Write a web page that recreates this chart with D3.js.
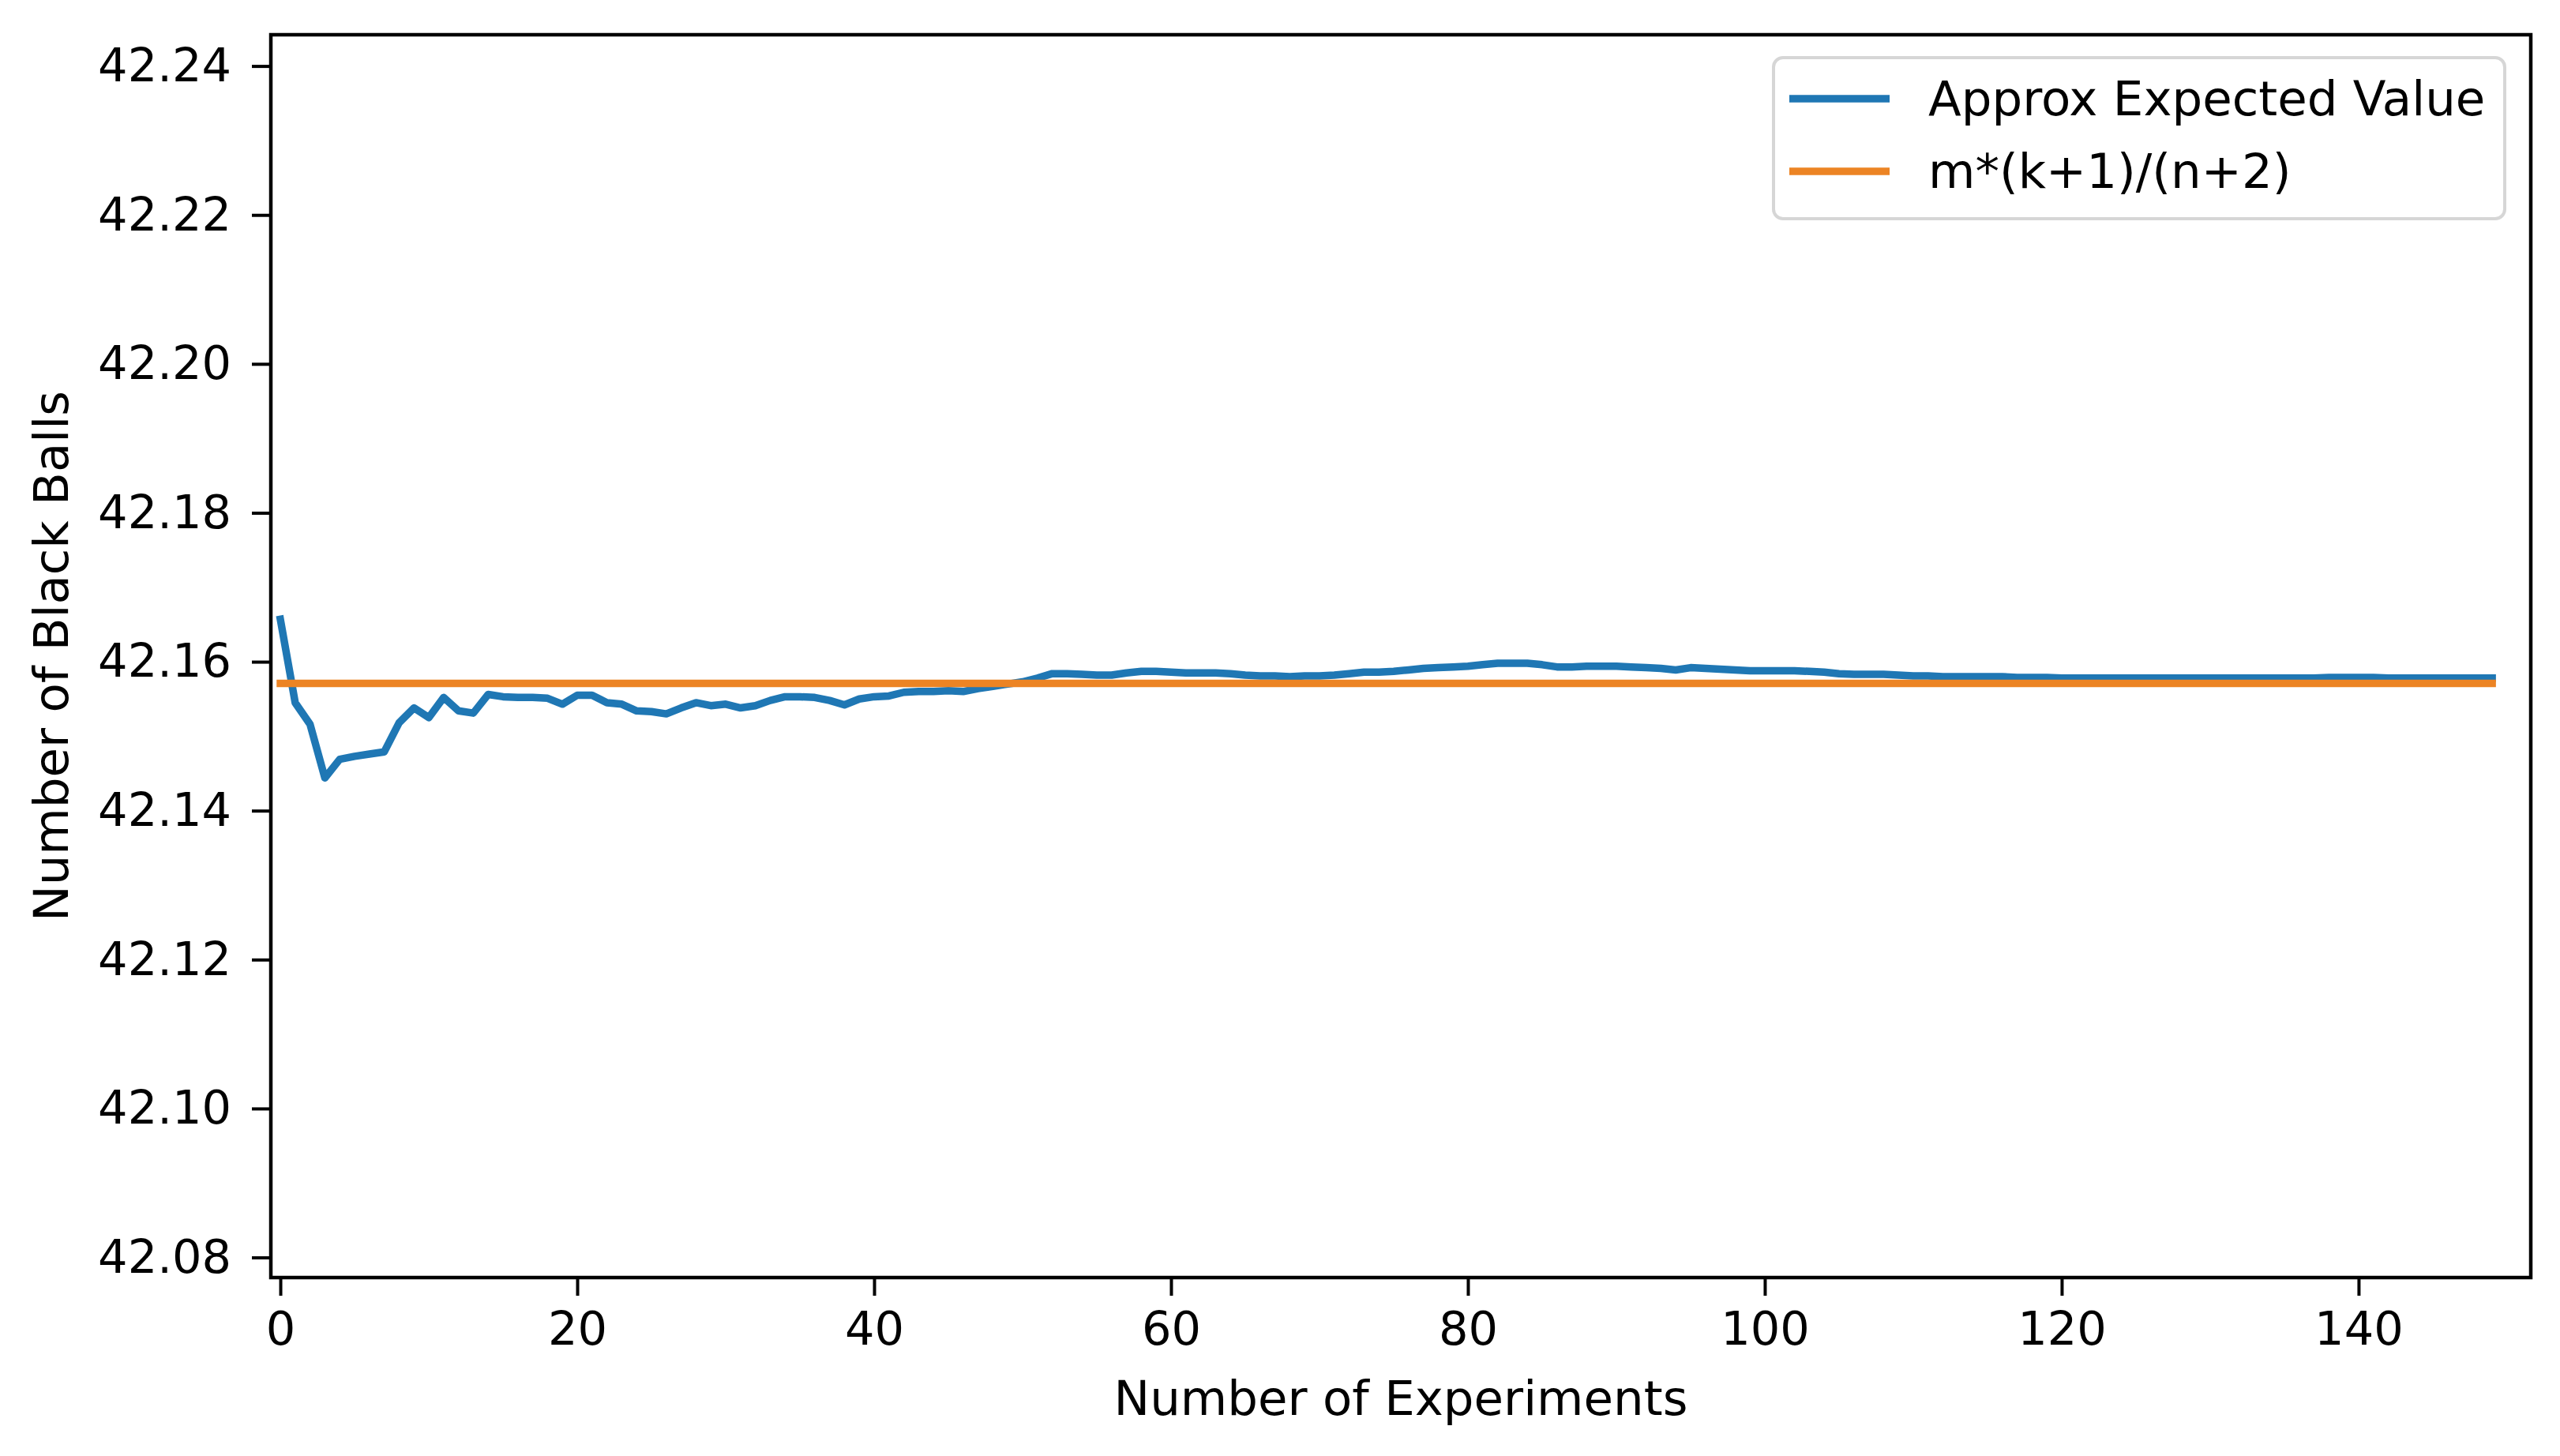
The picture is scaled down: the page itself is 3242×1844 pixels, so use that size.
<!DOCTYPE html>
<html>
<head>
<meta charset="utf-8">
<script src="https://cdn.jsdelivr.net/npm/d3@7"></script>
<style>
  html, body { margin: 0; padding: 0; background: #fff; }
  text { font-family: "DejaVu Sans", sans-serif; fill: #000; }
</style>
</head>
<body>
<div id="chart"></div>
<script>
// data
var experiments = d3.range(0, 150);
var approxExpected = [
  42.1657, 42.1545, 42.1516, 42.1444, 42.1469, 42.1473, 42.1476, 42.1479, 42.1518, 42.1538,
  42.1525, 42.1552, 42.1534, 42.1531, 42.1556, 42.1553, 42.1552, 42.1552, 42.1551, 42.1543,
  42.1555, 42.1555, 42.1545, 42.1543, 42.1534, 42.1533, 42.1530, 42.1538, 42.1545, 42.1541,
  42.1543, 42.1538, 42.1541, 42.1548, 42.1553, 42.1553, 42.1552, 42.1548, 42.1542, 42.1550,
  42.1553, 42.1554, 42.1559, 42.1560, 42.1560, 42.1561, 42.1560, 42.1564, 42.1567, 42.1570,
  42.1573, 42.1578, 42.1584, 42.1584, 42.1583, 42.1582, 42.1582, 42.1585, 42.1587, 42.1587,
  42.1586, 42.1585, 42.1585, 42.1585, 42.1584, 42.1582, 42.1581, 42.1581, 42.1580, 42.1581,
  42.1581, 42.1582, 42.1584, 42.1586, 42.1586, 42.1587, 42.1589, 42.1591, 42.1592, 42.1593,
  42.1594, 42.1596, 42.1598, 42.1598, 42.1598, 42.1596, 42.1593, 42.1593, 42.1594, 42.1594,
  42.1594, 42.1593, 42.1592, 42.1591, 42.1589, 42.1592, 42.1591, 42.1590, 42.1589, 42.1588,
  42.1588, 42.1588, 42.1588, 42.1587, 42.1586, 42.1584, 42.1583, 42.1583, 42.1583, 42.1582,
  42.1581, 42.1581, 42.1580, 42.1580, 42.1580, 42.1580, 42.1580, 42.1579, 42.1579, 42.1579,
  42.1578, 42.1578, 42.1578, 42.1578, 42.1578, 42.1578, 42.1578, 42.1578, 42.1578, 42.1578,
  42.1578, 42.1578, 42.1578, 42.1578, 42.1578, 42.1578, 42.1578, 42.1578, 42.1579, 42.1579,
  42.1579, 42.1579, 42.1578, 42.1578, 42.1578, 42.1578, 42.1578, 42.1578, 42.1578, 42.1578
];
var formulaValue = [42.1571, 42.1571];
var formulaX = [0, 149];
var xTicks = [0, 20, 40, 60, 80, 100, 120, 140];
var yTicks = [42.08, 42.10, 42.12, 42.14, 42.16, 42.18, 42.20, 42.22, 42.24];
var seriesNames = ["Approx Expected Value", "m*(k+1)/(n+2)"];
var seriesColors = ["#1f77b4", "#ec8424"];

var svgWidth = 3242;
var svgHeight = 1844;
var plotLeft = 343, plotRight = 3205, plotTop = 44, plotBottom = 1618;
var fontSize = 59;
var labelSize = 61;
var lineWidth = 9.5;

var svg = d3.select("#chart").append("svg")
	.attr("width", svgWidth)
	.attr("height", svgHeight)
	.attr("viewBox", "0 0 " + svgWidth + " " + svgHeight);

svg.append("rect")
	.attr("width", svgWidth)
	.attr("height", svgHeight)
	.attr("fill", "#fff");

var x = d3.scaleLinear()
	.domain([-0.64, 151.6])
	.range([plotLeft, plotRight]);

var y = d3.scaleLinear()
	.domain([42.0773, 42.2442])
	.range([plotBottom, plotTop]);

//x axis
var xAxis = svg.append("g")
	.attr("transform", "translate(0," + plotBottom + ")")
	.call(d3.axisBottom(x).tickValues(xTicks).tickSize(23).tickSizeOuter(0).tickPadding(20).tickFormat(d3.format("d")));

//y axis
var yAxis = svg.append("g")
	.attr("transform", "translate(" + plotLeft + ",0)")
	.call(d3.axisLeft(y).tickValues(yTicks).tickSize(24).tickSizeOuter(0).tickPadding(26).tickFormat(d3.format(".2f")));

[xAxis, yAxis].forEach(function(ax){
	ax.select(".domain").remove();
	ax.selectAll(".tick line").attr("stroke", "#000").attr("stroke-width", 4);
	ax.selectAll(".tick text")
		.attr("font-size", fontSize)
		.attr("font-family", "DejaVu Sans")
		.attr("fill", "#000");
});

//lines
var line = d3.line()
	.x(function(d){ return x(d[0]); })
	.y(function(d){ return y(d[1]); });

svg.append("path")
	.datum(experiments.map(function(e, i){ return [e, approxExpected[i]]; }))
	.attr("fill", "none")
	.attr("stroke", seriesColors[0])
	.attr("stroke-width", lineWidth)
	.attr("stroke-linejoin", "round")
	.attr("stroke-linecap", "square")
	.attr("d", line);

svg.append("path")
	.datum(formulaX.map(function(e, i){ return [e, formulaValue[i]]; }))
	.attr("fill", "none")
	.attr("stroke", seriesColors[1])
	.attr("stroke-width", lineWidth)
	.attr("stroke-linecap", "square")
	.attr("d", line);

//frame
svg.append("rect")
	.attr("x", plotLeft)
	.attr("y", plotTop)
	.attr("width", plotRight - plotLeft)
	.attr("height", plotBottom - plotTop)
	.attr("fill", "none")
	.attr("stroke", "#000")
	.attr("stroke-width", 4.5);

//axis labels
svg.append("text")
	.attr("x", (plotLeft + plotRight) / 2)
	.attr("y", 1792)
	.attr("text-anchor", "middle")
	.attr("font-size", labelSize)
	.text("Number of Experiments");

svg.append("text")
	.attr("transform", "translate(86," + ((plotTop + plotBottom) / 2) + ") rotate(-90)")
	.attr("text-anchor", "middle")
	.attr("font-size", labelSize)
	.text("Number of Black Balls");

//legend
var legend = svg.append("g")
	.attr("id", "legend");

legend.append("rect")
	.attr("x", 2246)
	.attr("y", 73)
	.attr("width", 926)
	.attr("height", 204)
	.attr("rx", 12)
	.attr("ry", 12)
	.attr("fill", "#fff")
	.attr("fill-opacity", 0.8)
	.attr("stroke", "#d6d6d6")
	.attr("stroke-width", 4);

var legendRows = [125, 217];
seriesNames.forEach(function(name, i){
	legend.append("line")
		.attr("x1", 2266)
		.attr("x2", 2393)
		.attr("y1", legendRows[i])
		.attr("y2", legendRows[i])
		.attr("stroke", seriesColors[i])
		.attr("stroke-width", lineWidth);
	legend.append("text")
		.attr("x", 2442)
		.attr("y", legendRows[i] + 21)
		.attr("font-size", labelSize)
		.text(name);
});
</script>
</body>
</html>
